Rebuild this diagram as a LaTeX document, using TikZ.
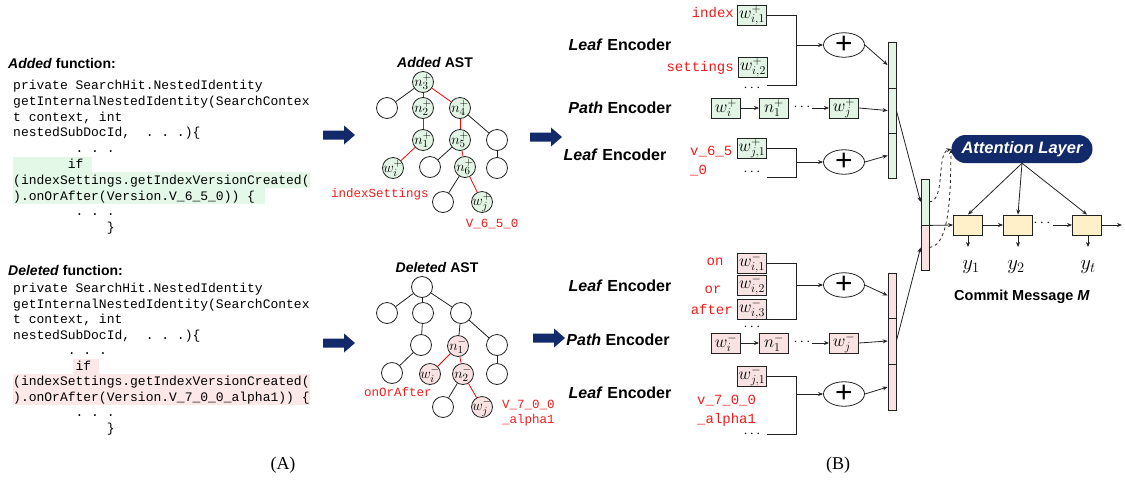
\documentclass[tikz,border=0pt]{standalone}
\usepackage{fontspec}
\setmainfont{Liberation Sans}
\newfontfamily\codefont{Liberation Mono}
\newfontfamily\capfont{Liberation Serif}
\usetikzlibrary{arrows.meta,shapes.geometric}

\definecolor{addfill}{HTML}{E2F5E5}
\definecolor{delfill}{HTML}{F8E2E2}
\definecolor{hlgreen}{HTML}{E4F8E8}
\definecolor{hlpink}{HTML}{FDE8E8}
\definecolor{navy}{HTML}{12296A}
\definecolor{labred}{HTML}{F41A1A}
\definecolor{decfill}{HTML}{FFF0C9}
\definecolor{edge}{HTML}{222222}

% filled block arrow pointing right, tail at (#1,#2)
\newcommand\blockarrow[2]{%
  \fill[navy, shift={(#1,#2)}] (0,-4.5) -- (21,-4.5) -- (21,-9.5) -- (32,0)
    -- (21,9.5) -- (21,4.5) -- (0,4.5) -- cycle;}
% AST node label that does not widen the circle
\newcommand\astlbl[1]{\makebox[0pt]{$#1$}}

\tikzset{
  every node/.style={inner sep=0pt},
  codeline/.style={font=\codefont\fontsize{13}{15}\selectfont, anchor=west,
    text height=10pt, text depth=1pt},
  heading/.style={font=\bfseries\fontsize{14}{16}\selectfont},
  asttag/.style={font=\codefont\fontsize{12.5}{14}\selectfont, text=labred,
    text height=9.5pt, text depth=1pt},
  tok/.style={font=\codefont\fontsize{14}{16}\selectfont, text=labred,
    text height=10.5pt, text depth=1pt},
  astnode/.style={circle, draw=edge, line width=0.8pt, minimum size=21pt,
    font=\fontsize{15}{15}\selectfont},
  addnode/.style={astnode, fill=addfill},
  delnode/.style={astnode, fill=delfill},
  blk/.style={draw=edge, line width=0.8pt},
  redl/.style={draw=red, line width=0.8pt},
  encname/.style={font=\bfseries\fontsize{16}{18}\selectfont},
  tokbox/.style={draw=edge, line width=0.9pt, minimum width=29pt,
    minimum height=20pt, font=\fontsize{16.5}{16.5}\selectfont},
  addbox/.style={tokbox, fill=addfill},
  delbox/.style={tokbox, fill=delfill},
  decbox/.style={tokbox, fill=decfill},
  plusnode/.style={ellipse, draw=edge, line width=0.8pt, minimum width=41pt,
    minimum height=22pt, font=\fontsize{30}{30}\selectfont},
  seg/.style={draw=edge, line width=0.8pt, minimum width=8pt},
  wire/.style={draw=edge, line width=0.8pt},
  arr/.style={wire, -{Stealth[length=5pt,width=4pt]}},
  dotsnode/.style={font=\bfseries\fontsize{14}{14}\selectfont},
  outlbl/.style={font=\fontsize{20}{20}\selectfont},
}

\begin{document}
\begin{tikzpicture}[x=1pt,y=-1pt]
\useasboundingbox (0,0) rectangle (1125,483);

% ---------- added function ----------
\fill[hlgreen] (13,156.5) rectangle (92,171.8);
\fill[hlgreen] (13,171.8) rectangle (310,187.7);
\fill[hlgreen] (13,187.7) rectangle (265,203.5);
\node[heading, anchor=west] (addtitle) at (8,63) {\textit{Added} function:};
\node[codeline] (ac1) at (13,85) {private SearchHit.NestedIdentity};
\node[codeline] (ac2) at (13,100.8) {getInternalNestedIdentity(SearchContex};
\node[codeline] (ac3) at (13,116.6) {t context, int};
\node[codeline] (ac4) at (13,132.4) {nestedSubDocId,~~.~.~.)\{};
\node[codeline] (ac5) at (75.4,148.2) {.~.~.};
\node[codeline] (ac6) at (67.6,164) {if};
\node[codeline] (ac7) at (13,179.8) {(indexSettings.getIndexVersionCreated(};
\node[codeline] (ac8) at (13,195.6) {).onOrAfter(Version.V\_6\_5\_0)) \{};
\node[codeline] (ac9) at (75.4,211.4) {.~.~.};
\node[codeline] (ac10) at (106.6,227.2) {\}};

% ---------- deleted function ----------
\fill[hlpink] (73,358.5) rectangle (99,373.6);
\fill[hlpink] (13,373.6) rectangle (310,389);
\fill[hlpink] (13,389) rectangle (310,404.6);
\node[heading, anchor=west] (deltitle) at (8,270) {\textit{Deleted} function:};
\node[codeline] (dc1) at (13,288) {private SearchHit.NestedIdentity};
\node[codeline] (dc2) at (13,303.6) {getInternalNestedIdentity(SearchContex};
\node[codeline] (dc3) at (13,319.1) {t context, int};
\node[codeline] (dc4) at (13,334.7) {nestedSubDocId,~~.~.~.)\{};
\node[codeline] (dc5) at (67.6,350.2) {.~.~.};
\node[codeline] (dc6) at (75.4,365.8) {if};
\node[codeline] (dc7) at (13,381.3) {(indexSettings.getIndexVersionCreated(};
\node[codeline] (dc8) at (13,396.9) {).onOrAfter(Version.V\_7\_0\_0\_alpha1)) \{};
\node[codeline] (dc9) at (75.4,412.4) {.~.~.};
\node[codeline] (dc10) at (106.6,428) {\}};

% ---------- block arrows ----------
\blockarrow{323}{135}
\blockarrow{323}{343}
\blockarrow{530}{137}
\blockarrow{533}{338}

% ---------- added AST ----------
\node[heading] (addast) at (435,62) {\textit{Added} AST};
\node[addnode] (p3) at (423,82) {\astlbl{n_3^+}};
\node[astnode] (pL) at (387,108) {};
\node[addnode] (p2) at (423,108) {\astlbl{n_2^+}};
\node[addnode] (p4) at (460,108) {\astlbl{n_4^+}};
\node[addnode] (p1) at (423,140) {\astlbl{n_1^+}};
\node[addnode] (p5) at (460,140) {\astlbl{n_5^+}};
\node[astnode] (pR) at (497,140) {};
\node[addnode] (pwi) at (393,168) {\astlbl{w_i^+}};
\node[astnode] (pM) at (430,167) {};
\node[addnode] (p6) at (465,167) {\astlbl{n_6^+}};
\node[astnode] (pR2) at (497,168) {};
\node[astnode] (pB) at (443,202) {};
\node[addnode] (pwj) at (482,202) {\astlbl{w_j^+}};
\draw[blk] (p3) -- (pL);
\draw[redl] (p3) -- (p2);
\draw[redl] (p3) -- (p4);
\draw[redl] (p2) -- (p1);
\draw[redl] (p4) -- (p5);
\draw[blk] (p4) -- (pR);
\draw[redl] (p1) -- (pwi);
\draw[blk] (p5) -- (pM);
\draw[redl] (p5) -- (p6);
\draw[blk] (pR) -- (pR2);
\draw[blk] (p6) -- (pB);
\draw[redl] (p6) -- (pwj);
\node[asttag] (tagA1) at (380,193) {indexSettings};
\node[asttag] (tagA2) at (492,223) {V\_6\_5\_0};

% ---------- deleted AST ----------
\node[heading] (delast) at (437,267) {\textit{Deleted} AST};
\node[astnode] (q0) at (422,287) {};
\node[astnode] (qL) at (387,313) {};
\node[astnode] (qM) at (423,313) {};
\node[astnode] (qR) at (461,313) {};
\node[astnode] (qM2) at (421,345) {};
\node[delnode] (q1) at (458,346) {\astlbl{n_1^-}};
\node[astnode] (qR2) at (497,345) {};
\node[astnode] (qM3) at (392,373) {};
\node[delnode] (qwi) at (430,374) {\astlbl{w_i^-}};
\node[delnode] (q2) at (463,374) {\astlbl{n_2^-}};
\node[astnode] (qR3) at (497,374) {};
\node[astnode] (qB) at (443,407) {};
\node[delnode] (qwj) at (482,407) {\astlbl{w_j^-}};
\draw[blk] (q0) -- (qL);
\draw[blk] (q0) -- (qM);
\draw[blk] (q0) -- (qR);
\draw[blk] (qM) -- (qM2);
\draw[blk] (qR) -- (q1);
\draw[blk] (qR) -- (qR2);
\draw[blk] (qM2) -- (qM3);
\draw[blk] (qR2) -- (qR3);
\draw[blk] (q2) -- (qB);
\draw[redl] (q1) -- (qwi);
\draw[redl] (q1) -- (q2);
\draw[redl] (q2) -- (qwj);
\node[asttag] (tagD1) at (398,392) {onOrAfter};
\node[asttag, anchor=west] (tagD2) at (502,404) {V\_7\_0\_0};
\node[asttag, anchor=west] (tagD3) at (502,419) {\_alpha1};

% ---------- encoder names ----------
\node[encname] (en1) at (620,45) {\textit{Leaf} Encoder};
\node[encname] (en2) at (620,108) {\textit{Path} Encoder};
\node[encname] (en3) at (615,155) {\textit{Leaf} Encoder};
\node[encname] (en4) at (620,286) {\textit{Leaf} Encoder};
\node[encname] (en5) at (618,340) {\textit{Path} Encoder};
\node[encname] (en6) at (620,393) {\textit{Leaf} Encoder};

% ---------- added encoders ----------
\node[tok, anchor=east] (tk1) at (734,13) {index};
\node[tok, anchor=east] (tk2) at (734,67) {settings};
\node[tok, anchor=west] (tk3) at (690,151) {v\_6\_5};
\node[tok, anchor=west] (tk4) at (690,170) {\_0};

\node[addbox] (wa1) at (752,15) {$w_{i,1}^+$};
\node[addbox] (wa2) at (753,67) {$w_{i,2}^+$};
\node[dotsnode] (da1) at (752,88) {$\cdots$};
\node[addbox] (pa1) at (726,108) {$w_i^+$};
\node[addbox] (pa2) at (774,108) {$n_1^+$};
\node[dotsnode] (da2) at (802,107) {$\cdots$};
\node[addbox] (pa3) at (844,108) {$w_j^+$};
\node[addbox] (wa3) at (752,148) {$w_{j,1}^+$};
\node[dotsnode] (da3) at (752,172) {$\cdots$};

\node[plusnode] (ea1) at (844,45) {+};
\node[plusnode] (ea2) at (844,162) {+};

\node[seg, fill=addfill, minimum height=46pt] (ta1) at (892,65) {};
\node[seg, fill=addfill, minimum height=45pt] (ta2) at (892,110.5) {};
\node[seg, fill=addfill, minimum height=45pt] (ta3) at (892,155.5) {};

\coordinate (ka1) at (796,85);
\coordinate (ka1e) at (767,85);
\coordinate (ja1) at (796,45);
\draw[wire] (wa1.east) -| (ka1) -- (ka1e);
\draw[arr] (ja1) -- (ea1.west);
\draw[arr] (ea1.east) -- (ta1.west);

\draw[arr] (pa1.east) -- (pa2.west);
\coordinate (ga1) at (812,108);
\draw[arr] (ga1) -- (pa3.west);
\draw[arr] (pa3.east) -- (ta2.west);

\coordinate (ka2) at (796,177);
\coordinate (ka2e) at (767,177);
\coordinate (ja2) at (796,162);
\draw[wire] (wa3.east) -| (ka2) -- (ka2e);
\draw[arr] (ja2) -- (ea2.west);
\draw[arr] (ea2.east) -- (ta3.west);

% ---------- deleted encoders ----------
\node[tok] (tk5) at (715,261) {on};
\node[tok] (tk6) at (713,289) {or};
\node[tok, anchor=east] (tk7) at (733,310) {after};
\node[tok, anchor=west] (tk8) at (697,400) {v\_7\_0\_0};
\node[tok, anchor=west] (tk9) at (697,419) {\_alpha1};

\node[delbox] (wb1) at (752,263) {$w_{i,1}^-$};
\node[delbox] (wb2) at (752,285) {$w_{i,2}^-$};
\node[delbox] (wb3) at (752,309) {$w_{i,3}^-$};
\node[dotsnode] (db1) at (752,327) {$\cdots$};
\node[delbox] (pb1) at (726,343) {$w_i^-$};
\node[delbox] (pb2) at (774,343) {$n_1^-$};
\node[dotsnode] (db2) at (802,342) {$\cdots$};
\node[delbox] (pb3) at (844,343) {$w_j^-$};
\node[delbox] (wb4) at (752,376) {$w_{j,1}^-$};
\node[dotsnode] (db3) at (752,434) {$\cdots$};

\node[plusnode] (eb1) at (844,285) {+};
\node[plusnode] (eb2) at (844,394) {+};

\node[seg, fill=delfill, minimum height=45pt] (tb1) at (892,295.5) {};
\node[seg, fill=delfill, minimum height=46pt] (tb2) at (892,341) {};
\node[seg, fill=delfill, minimum height=46pt] (tb3) at (892,387) {};

\coordinate (kb1) at (796,319);
\coordinate (kb1e) at (767,319);
\coordinate (jb1) at (796,285);
\draw[wire] (wb1.east) -| (kb1) -- (kb1e);
\draw[arr] (jb1) -- (eb1.west);
\draw[arr] (eb1.east) -- (tb1.west);

\draw[arr] (pb1.east) -- (pb2.west);
\coordinate (gb1) at (812,343);
\draw[arr] (gb1) -- (pb3.west);
\draw[arr] (pb3.east) -- (tb2.west);

\coordinate (kb2) at (796,434);
\coordinate (kb2e) at (767,434);
\coordinate (jb2) at (796,394);
\draw[wire] (wb4.east) -| (kb2) -- (kb2e);
\draw[arr] (jb2) -- (eb2.west);
\draw[arr] (eb2.east) -- (tb3.west);

% ---------- merged code vector ----------
\node[seg, fill=addfill, minimum height=46pt] (cg) at (925,202) {};
\node[seg, fill=delfill, minimum height=45pt] (cp) at (925,247.5) {};
\draw[arr] (ta2.east) -- (cg.west);
\draw[arr] (tb2.east) -- (cp.west);

% ---------- decoder ----------
\node[fill=navy, rounded corners=14pt, minimum width=141pt, minimum height=28pt,
  text=white, font=\bfseries\itshape\fontsize{16.5}{18}\selectfont] (att) at (1022,149) {Attention Layer};
\draw[wire, dashed, -{Stealth[length=5pt,width=4pt]}] (cg.east) .. controls (946,200) and (936,153) .. (att.west);
\draw[wire, dashed, -{Stealth[length=5pt,width=4pt]}] (cp.east) .. controls (953,246) and (950,172) .. (att.west);

\node[decbox] (d1) at (968,225) {};
\node[decbox] (d2) at (1018,225) {};
\node[dotsnode] (dd) at (1042,223) {$\cdots$};
\node[decbox] (d3) at (1087,225) {};
\coordinate (gd) at (1053,225);
\coordinate (od) at (1122,225);
\draw[arr] (cg.south east) -- (d1.west);
\draw[arr] (d1.east) -- (d2.west);
\draw[arr] (gd) -- (d3.west);
\draw[arr] (d3.east) -- (od);
\draw[arr] (att.south) -- (d1.north);
\draw[arr] (att.south) -- (d2.north);
\draw[arr] (att.south) -- (d3.north);

\coordinate (o1) at (968,247);
\coordinate (o2) at (1018,247);
\coordinate (o3) at (1088,247);
\draw[arr] (d1.south) -- (o1);
\draw[arr] (d2.south) -- (o2);
\draw[arr] ([xshift=1pt]d3.south) -- (o3);
\node[outlbl] (y1) at (971,267) {$y_1$};
\node[outlbl] (y2) at (1016,267) {$y_2$};
\node[outlbl] (yt) at (1088,267) {$y_t$};
\node[font=\bfseries\fontsize{14.5}{16}\selectfont] (msg) at (1022,297) {Commit Message \textit{M}};

% ---------- panel captions ----------
\node[font=\capfont\fontsize{18}{20}\selectfont] (capA) at (283,465) {(A)};
\node[font=\capfont\fontsize{18}{20}\selectfont] (capB) at (838,465) {(B)};
\end{tikzpicture}
\end{document}
